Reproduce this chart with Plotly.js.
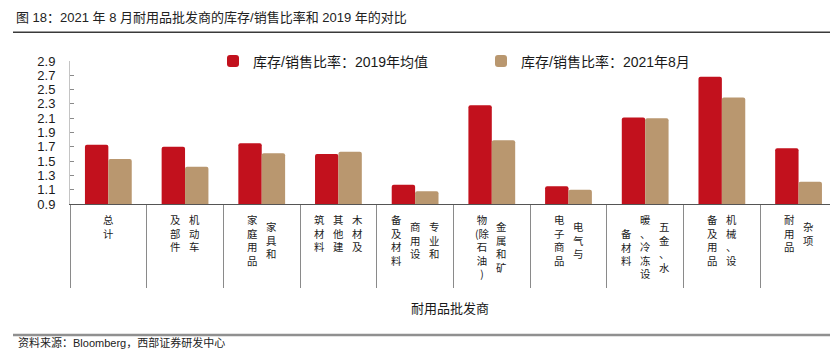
<!DOCTYPE html>
<html>
<head>
<meta charset="utf-8">
<script src="https://cdn.plot.ly/plotly-3.0.1.min.js"></script>
<style>html,body{margin:0;padding:0;background:#fff;}#chart{width:830px;height:361px;}</style>
</head>
<body>
<div id="chart"></div>
<script>
// ---- data ----
const categories = ['总计','机动车及部件','家具和家庭用品','木材及其他建筑材料','专业和商用设备及材料','金属和矿物(除石油)','电气与电子商品','五金、水暖、冷冻设备材料','机械、设备及用品','杂项耐用品'];
// vertical label columns, right column first
const labelColumns = [
  ['总计'],
  ['机动车','及部件'],
  ['家具和','家庭用品'],
  ['木材及','其他建','筑材料'],
  ['专业和','商用设','备及材料'],
  ['金属和矿','物(除石油)'],
  ['电气与','电子商品'],
  ['五金、水','暖、冷冻设','备材料'],
  ['机械、设','备及用品'],
  ['杂项','耐用品']
];
const ratio2019 = [1.73, 1.70, 1.75, 1.60, 1.17, 2.28, 1.15, 2.11, 2.68, 1.68];
const ratioAug2021 = [1.53, 1.42, 1.61, 1.63, 1.08, 1.79, 1.10, 2.10, 2.39, 1.21];
const seriesNames = ['库存/销售比率：2019年均值', '库存/销售比率：2021年8月'];
const yTickVals = [0.9, 1.1, 1.3, 1.5, 1.7, 1.9, 2.1, 2.3, 2.5, 2.7, 2.9];
const titleText = '图 18：2021 年 8 月耐用品批发商的库存/销售比率和 2019 年的对比';
const xTitleText = '耐用品批发商';
const sourceText = '资料来源：Bloomberg，西部证券研发中心';

// ---- styling ----
const FONT = 'Liberation Sans, Arial, Noto Sans CJK SC, sans-serif';
const CJK = 'Noto Sans CJK SC, sans-serif';
const RED = '#C2111D';
const TAN = '#B9976F';

const traces = [
  {type:'bar', x:categories, y:ratio2019, name:seriesNames[0], legend:'legend', showlegend:true,
   marker:{color:RED, cornerradius:2, line:{width:0}}, hoverinfo:'y'},
  {type:'bar', x:categories, y:ratioAug2021, name:seriesNames[1], legend:'legend2', showlegend:true,
   marker:{color:TAN, cornerradius:2, line:{width:0}}, hoverinfo:'y'}
];

function splitLines(s){
  const out=[]; let pend='';
  for (const ch of Array.from(s)) {
    if (ch === '(') { pend = ch; continue; }
    out.push(pend + ch); pend = '';
  }
  return out;
}

const annotations = [];
const LABEL_SIZE = 10.4;
const LINE_PITCH = LABEL_SIZE * 1.3, COL_PITCH = 19, TOP_GAP = 7;
labelColumns.forEach((cols, i) => {
  const lines = cols.map(splitLines);
  const maxLen = Math.max(...lines.map(l => l.length));
  const n = cols.length;
  lines.forEach((colLines, j) => {
    const xs = ((n - 1) / 2 - j) * COL_PITCH;
    const off = (maxLen - colLines.length) / 2;
    annotations.push({
      x: categories[i], xref:'x', y:0, yref:'paper',
      xanchor:'center', yanchor:'top', showarrow:false, borderpad:0,
      xshift: xs, yshift: -(TOP_GAP + off * LINE_PITCH),
      text: colLines.join('<br>'), align:'center',
      font:{family:CJK, size:LABEL_SIZE, color:'#1a1a1a'}
    });
  });
});
annotations.push({
  x:(16-70)/760, xref:'paper', y:-(342.5-204)/143, yref:'paper',
  xanchor:'left', yanchor:'middle', showarrow:false,
  text:sourceText, font:{family:FONT, size:11, color:'#222'}
});

const layout = {
  width:830, height:361,
  showlegend:true,
  margin:{l:70, r:0, t:61, b:157, pad:0, autoexpand:false},
  paper_bgcolor:'#fff', plot_bgcolor:'#fff',
  font:{family:FONT, color:'#1a1a1a'},
  title:{text:titleText, x:16/830, xref:'container', xanchor:'left',
         y:1-17/361, yref:'container', yanchor:'middle',
         font:{family:FONT, size:13, color:'#222'}},
  barmode:'group', bargap:0.39, bargroupgap:0,
  xaxis:{type:'category', range:[-0.5, 9.41], showticklabels:false,
         ticks:'outside', tickson:'boundaries', ticklen:83, tickcolor:'#8a8a8a', tickwidth:1,
         showline:true, linecolor:'#555', linewidth:1, showgrid:false, zeroline:false,
         fixedrange:true, automargin:false,
         title:{text:xTitleText, standoff:99, font:{family:CJK, size:13, color:'#1a1a1a'}}},
  yaxis:{range:[0.9, 2.9], tickmode:'array', tickvals:yTickVals,
         ticktext:yTickVals.map(v => v.toFixed(1)),
         ticks:'inside', ticklen:4, tickcolor:'#8a8a8a', tickwidth:1,
         showline:true, linecolor:'#c4c4c4', linewidth:1, automargin:false,
         showgrid:false, zeroline:false, ticklabelstandoff:11,
         tickfont:{family:FONT, size:13, color:'#1a1a1a'}, fixedrange:true},
  legend:{orientation:'h', x:213/830, xref:'container', xanchor:'left',
          y:1-61.5/361, yref:'container', yanchor:'middle', visible:true,
          font:{family:FONT, size:14, color:'#1a1a1a'}, bgcolor:'rgba(0,0,0,0)'},
  legend2:{orientation:'h', x:481/830, xref:'container', xanchor:'left',
          y:1-61.5/361, yref:'container', yanchor:'middle', visible:true,
          font:{family:FONT, size:14, color:'#1a1a1a'}, bgcolor:'rgba(0,0,0,0)'},
  shapes:[
    {type:'line', xref:'paper', yref:'paper', x0:(13-70)/760, x1:1,
     y0:1+(61-32.3)/143, y1:1+(61-32.3)/143, line:{color:'#3a3a3a', width:1.5}},
    {type:'line', xref:'paper', yref:'paper', x0:(13-70)/760, x1:1,
     y0:-(335-204)/143, y1:-(335-204)/143, line:{color:'#909090', width:2.5}}
  ],
  annotations: annotations
};

Plotly.newPlot('chart', traces, layout, {displayModeBar:false, staticPlot:true});
</script>
</body>
</html>
